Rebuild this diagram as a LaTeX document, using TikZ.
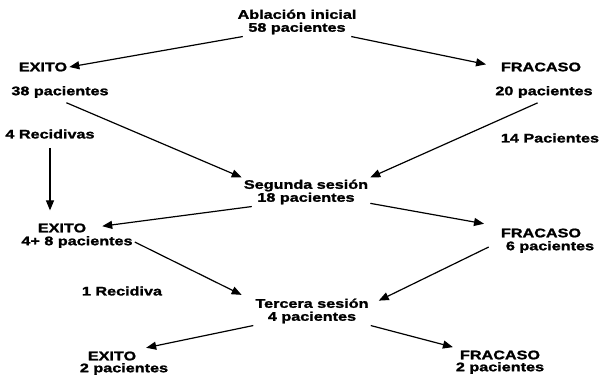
\documentclass[tikz,border=0pt]{standalone}
\usepackage{fontspec}
\newfontfamily\diagfont{Liberation Sans}[FakeStretch=1.3, FakeBold=1.5]
\usetikzlibrary{arrows.meta}

\begin{document}
\begin{tikzpicture}[x=1bp,y=-1bp,
    txt/.style={font=\diagfont\bfseries\fontsize{12.5}{13}\selectfont, inner sep=2bp, align=center},
    flecha/.style={-{Triangle[length=10bp,width=8bp]}, line width=1.2bp}]
    \useasboundingbox (0,0) rectangle (602,375);
    % primera ablacion
    \node[txt] (ini) at (297,22) {Ablación inicial\\58 pacientes};
    \node[txt] (ex1) at (43,67) {EXITO};
    \node[txt] (p38) at (60,92) {38 pacientes};
    \node[txt] (fr1) at (541,67) {FRACASO};
    \node[txt] (p20) at (544,92) {20 pacientes};
    \node[txt] (rec4) at (50,134) {4 Recidivas};
    \node[txt] (p14) at (550,138) {14 Pacientes};
    % segunda sesion
    \node[txt] (seg) at (306,192) {Segunda sesión\\18 pacientes};
    \node[txt] (ex2) at (62,228) {EXITO};
    \node[txt] (p48) at (77,242) {4+ 8 pacientes};
    \node[txt] (fr2) at (541,233) {FRACASO};
    \node[txt] (p6) at (550,247) {6 pacientes};
    \node[txt] (rec1) at (122,291) {1 Recidiva};
    % tercera sesion
    \node[txt] (ter) at (312,311) {Tercera sesión\\4 pacientes};
    \node[txt] (ex3) at (112,356) {EXITO};
    \node[txt] (p2a) at (124,369) {2 pacientes};
    \node[txt] (fr3) at (500,355) {FRACASO};
    \node[txt] (p2b) at (500,368) {2 pacientes};
    % flechas
    \draw[flecha] (ini.195) -- (ex1.east);
    \draw[flecha, shorten >=13bp] (ini.-15) -- (fr1.west);
    \draw[flecha, shorten <=7bp] (p38.south) -- (seg.north west);
    \draw[flecha, shorten <=7bp] (p20.south) -- (seg.north east);
    \draw[flecha, shorten <=7bp, shorten >=11bp] (rec4.south) -- (rec4.south |- ex2.north);
    \draw[flecha, shorten >=14bp] (seg.195) -- (ex2.east);
    \draw[flecha, shorten >=15bp] (seg.-10) -- (fr2.north west);
    \draw[flecha, shorten >=13bp] (p48.east) -- (ter.170);
    \draw[flecha] ([xshift=-15bp]p6.west) -- ([xshift=8bp]ter.10);
    \draw[flecha, shorten >=8bp] (ter.south west) -- (ex3.north east);
    \draw[flecha, shorten >=5bp] (ter.south east) -- (fr3.north west);
\end{tikzpicture}
\end{document}
